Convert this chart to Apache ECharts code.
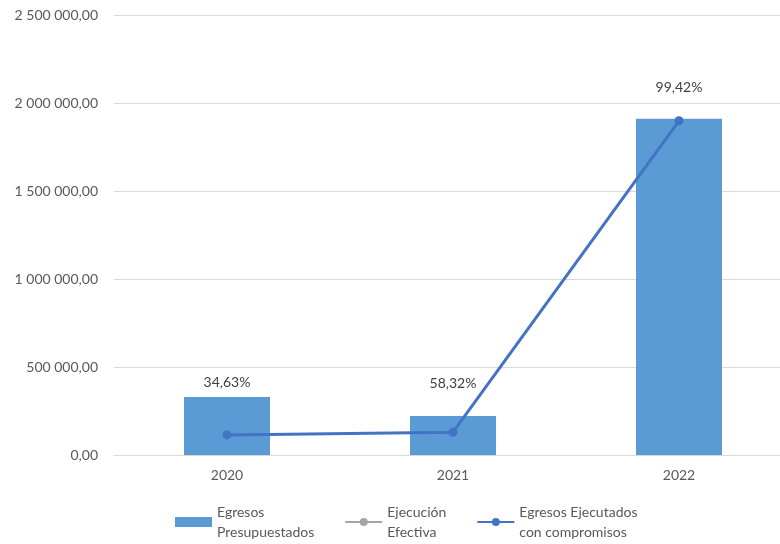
<!DOCTYPE html>
<html>
<head>
<meta charset="utf-8">
<script src="https://cdn.jsdelivr.net/npm/echarts@6/dist/echarts.min.js"></script>
<style>html,body{margin:0;padding:0;background:#fff;}#c{width:780px;height:544px;}</style>
</head>
<body>
<div id="c"></div>
<script>
const categories = ['2020', '2021', '2022'];
const egresosPresupuestados = [330000, 222000, 1910000];
const egresosEjecutados = [114300, 129500, 1898900];
const ejecucionEfectiva = [34.63, 58.32, 99.42];
const yTicks = [0, 500000, 1000000, 1500000, 2000000, 2500000];

const labelDistances = [7, 25, 24];
const font = 'Lato, "Open Sans", sans-serif';

function fmtNum(v) {
  const parts = v.toFixed(2).split('.');
  return parts[0].replace(/\B(?=(\d{3})+(?!\d))/g, ' ') + ',' + parts[1];
}

const chart = echarts.init(document.getElementById('c'));
chart.setOption({
  animation: false,
  textStyle: { fontFamily: font },
  grid: { left: 114, top: 15, right: -12, height: 440, outerBoundsMode: 'none', containLabel: false },
  legend: {
    left: 175, top: 492, padding: 0, itemGap: 30, itemWidth: 37, itemHeight: 10,
    data: [
      { name: 'Egresos Presupuestados', icon: 'rect' },
      { name: 'Ejecución Efectiva' },
      { name: 'Egresos Ejecutados con compromisos' }
    ],
    formatter: function (n) {
      return ({
        'Egresos Presupuestados': 'Egresos\nPresupuestados',
        'Ejecución Efectiva': 'Ejecución\nEfectiva',
        'Egresos Ejecutados con compromisos': 'Egresos Ejecutados\ncon compromisos'
      })[n];
    },
    textStyle: { color: '#595959', fontSize: 14, lineHeight: 20, padding: [20, 0, 0, 0], fontFamily: font }
  },
  xAxis: {
    type: 'category', data: categories,
    axisTick: { show: false },
    axisLine: { lineStyle: { color: '#d9d9d9' } },
    axisLabel: { color: '#595959', fontSize: 14, margin: 13, fontFamily: font }
  },
  yAxis: [{
    type: 'value', min: yTicks[0], max: yTicks[yTicks.length - 1], interval: 500000,
    axisLabel: { color: '#595959', fontSize: 14, margin: 16, formatter: fmtNum, fontFamily: font },
    splitLine: { lineStyle: { color: '#d9d9d9' } },
    axisLine: { show: false }, axisTick: { show: false }
  }],
  series: [
    {
      name: 'Egresos Presupuestados', type: 'bar', barWidth: 86,
      itemStyle: { color: '#5B9BD5' },
      data: egresosPresupuestados.map((v, i) => ({
        value: v,
        label: {
          show: true, position: 'top', distance: labelDistances[i],
          color: '#404040', fontSize: 14, fontFamily: font,
          formatter: ejecucionEfectiva[i].toFixed(2).replace('.', ',') + '%'
        }
      }))
    },
    {
      name: 'Ejecución Efectiva', type: 'line', data: [],
      itemStyle: { color: '#A5A5A5' }, lineStyle: { color: '#A5A5A5', width: 3 },
      symbol: 'circle', symbolSize: 8
    },
    {
      name: 'Egresos Ejecutados con compromisos', type: 'line', data: egresosEjecutados,
      itemStyle: { color: '#4472C4' }, lineStyle: { color: '#4472C4', width: 3 },
      symbol: 'circle', symbolSize: 9, z: 5
    }
  ]
});
</script>
</body>
</html>
